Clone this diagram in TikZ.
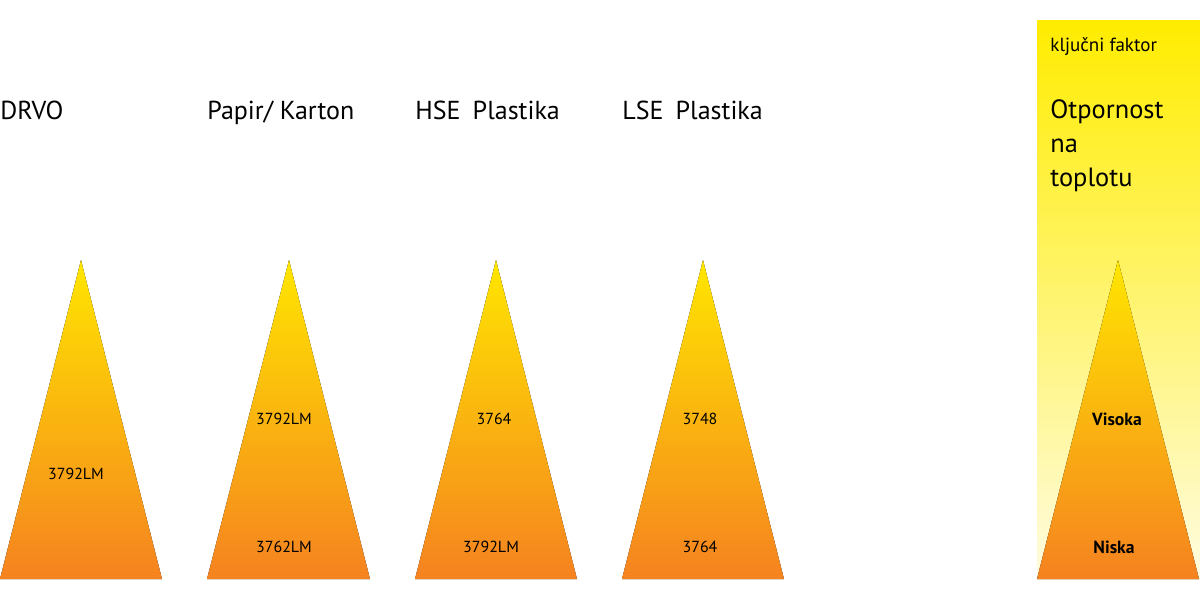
\documentclass[tikz,border=0pt]{standalone}
\usepackage{fontspec}
\setmainfont{PT Sans}
\usetikzlibrary{positioning}
\definecolor{coneTop}{HTML}{FFE600}
\definecolor{coneBot}{HTML}{F58220}
\definecolor{boxTop}{HTML}{FFEC00}
\definecolor{boxBot}{HTML}{FFFCE0}
\begin{document}
\begin{tikzpicture}[
				x=0.5pt, y=-0.5pt,
				cone/.style={
					top color=coneTop,
					bottom color=coneBot
					},
				title/.style={
					anchor=base west,
					inner sep=0pt,
					font=\fontsize{13}{15}\selectfont
					},
				value/.style={
					inner sep=0pt,
					font=\fontsize{8}{9}\selectfont
					},
				level/.style={
					inner sep=0pt,
					font=\fontsize{8.8}{10}\selectfont\bfseries
					}]
			    \useasboundingbox (0,0) rectangle (1200,600);
			    % Key factor panel
			    \fill [top color=boxTop, bottom color=boxBot] (1037,20) rectangle (1200,579);
			    % Cones
			    \fill [cone] (81,260) -- (162,579) -- (0,579) -- cycle;
			    \fill [cone] (289,260) -- (370,579) -- (207,579) -- cycle;
			    \fill [cone] (496,260) -- (577,579) -- (415,579) -- cycle;
			    \fill [cone] (703,260) -- (784,579) -- (622,579) -- cycle;
			    \fill [cone] (1118,260) -- (1199,579) -- (1037,579) -- cycle;
			    % Titles
			    \node [title] (drvo) at (0,119) {DRVO};
			    \node [title] (papir) at (207,119) {Papir/ Karton};
			    \node [title] (hse) at (415,119) {HSE\hspace{0.2em} Plastika};
			    \node [title] (lse) at (622,119) {LSE\hspace{0.2em} Plastika};
			    \node [title, font=\fontsize{9.5}{11}\selectfont] (factor) at (1050,51) {ključni faktor};
			    \node [title, font=\fontsize{13.2}{17}\selectfont, align=left, anchor=north west] (resist) at (1050,99) {Otpornost\\na\\toplotu};
			    % Values
			    \node [value] (drvoA) at (76,474) {3792LM};
			    \node [value] (papirA) at (284,419) {3792LM};
			    \node [value] (papirB) at (284,547) {3762LM};
			    \node [value] (hseA) at (494,419) {3764};
			    \node [value] (hseB) at (491,547) {3792LM};
			    \node [value] (lseA) at (700,419) {3748};
			    \node [value] (lseB) at (700,547) {3764};
			    \node [level] (high) at (1117,419) {Visoka};
			    \node [level] (low) at (1114,547) {Niska};
			\end{tikzpicture}
\end{document}
